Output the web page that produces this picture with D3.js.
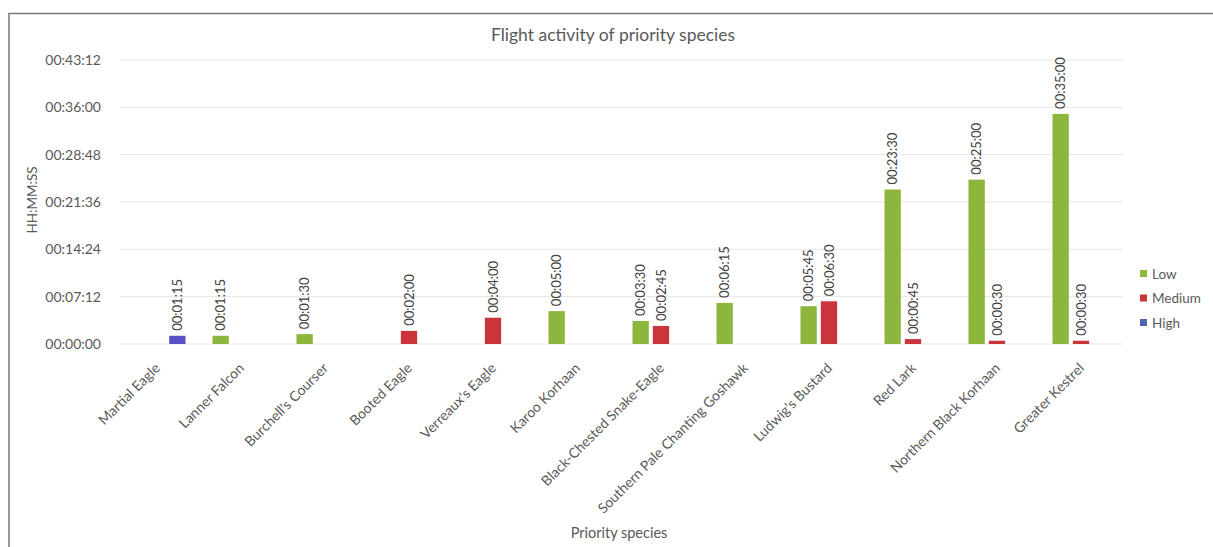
<!DOCTYPE html>
<html>
<head>
<meta charset="utf-8">
<script src="https://cdn.jsdelivr.net/npm/d3@7"></script>
<style>
  html, body { margin: 0; padding: 0; background: #fff; }
  svg { display: block; font-family: Lato, "Open Sans", sans-serif; }
</style>
</head>
<body>
<svg id="chart" width="1213" height="547"></svg>
<script>
// Data (values in seconds)
const categories = ["Martial Eagle", "Lanner Falcon", "Burchell's Courser", "Booted Eagle",
  "Verreaux's Eagle", "Karoo Korhaan", "Black-Chested Snake-Eagle",
  "Southern Pale Chanting Goshawk", "Ludwig's Bustard", "Red Lark",
  "Northern Black Korhaan", "Greater Kestrel"];
const seriesNames = ["Low", "Medium", "High"];
const lowValues    = [null, 75, 90, null, null, 300, 210, 375, 345, 1410, 1500, 2100];
const mediumValues = [null, null, null, 120, 240, null, 165, null, 390, 45, 30, 30];
const highValues   = [75, null, null, null, null, null, null, null, null, null, null, null];
const yTickValues  = [0, 432, 864, 1296, 1728, 2160, 2592]; // seconds
const seriesColors = ["#8db63c", "#c9353a", "#5a50c2"];
const legendColors = ["#8db63c", "#c9353a", "#4f66b0"];

const fmt = s => {
  const h = Math.floor(s / 3600), m = Math.floor((s % 3600) / 60), sec = Math.round(s % 60);
  return [h, m, sec].map(v => String(v).padStart(2, "0")).join(":");
};

const svg = d3.select("#chart");
const W = 1213, H = 547;
const plot = { left: 115, right: 1123, top: 60, bottom: 344 };

// Border
svg.append("path")
  .attr("d", `M9,${H + 2} L9,13.5 L${W + 2},13.5`)
  .attr("fill", "none").attr("stroke", "#7a7a7a").attr("stroke-width", 1.5);

const x = d3.scaleBand().domain(categories).range([plot.left, plot.right]).padding(0);
const inner = d3.scaleBand().domain(seriesNames).range([-28.5, 28.5]).paddingInner(0.2);
const y = d3.scaleLinear().domain([0, 2592]).range([plot.bottom, plot.top]);

// Gridlines
svg.append("g").selectAll("line").data(yTickValues).join("line")
  .attr("x1", plot.left + 5).attr("x2", plot.right)
  .attr("y1", d => y(d)).attr("y2", d => y(d))
  .attr("stroke", "#e6e6e6").attr("stroke-width", 1);

// Y axis labels
const yAxis = d3.axisLeft(y).tickValues(yTickValues).tickFormat(fmt).tickSize(0).tickPadding(12);
const gy = svg.append("g").attr("transform", `translate(${plot.left - 2},0)`).call(yAxis);
gy.select(".domain").remove();
gy.selectAll("text").attr("fill", "#595959").style("font-size", "14px")
  .style("font-family", "Lato, sans-serif");

// Bars
const allSeries = [lowValues, mediumValues, highValues];
const barData = [];
categories.forEach((c, i) => {
  allSeries.forEach((vals, si) => {
    if (vals[i] != null) barData.push({ cat: c, series: seriesNames[si], si, v: vals[i] });
  });
});

svg.append("g").selectAll("rect").data(barData).join("rect")
  .attr("x", d => x(d.cat) + x.bandwidth() / 2 + inner(d.series))
  .attr("width", inner.bandwidth())
  .attr("y", d => y(d.v))
  .attr("height", d => y(0) - y(d.v))
  .attr("fill", d => seriesColors[d.si]);

// Data labels
svg.append("g").selectAll("text").data(barData).join("text")
  .attr("transform", d => {
    const cx = x(d.cat) + x.bandwidth() / 2 + inner(d.series) + inner.bandwidth() / 2;
    return `translate(${cx + 4.5},${y(d.v) - 5}) rotate(-90)`;
  })
  .attr("text-anchor", "start")
  .attr("fill", "#404040").style("font-size", "13px")
  .text(d => fmt(d.v));

// X axis category labels
svg.append("g").selectAll("text").data(categories).join("text")
  .attr("transform", d => `translate(${x(d) + x.bandwidth() / 2 + 4},${plot.bottom + 25}) rotate(-45)`)
  .attr("text-anchor", "end")
  .attr("fill", "#595959").style("font-size", "14px")
  .text(d => d);

// Title
svg.append("text").attr("x", 613).attr("y", 41).attr("text-anchor", "middle")
  .attr("fill", "#595959").style("font-size", "17.5px")
  .text("Flight activity of priority species");

// Axis titles
svg.append("text").attr("x", 619).attr("y", 538).attr("text-anchor", "middle")
  .attr("fill", "#595959").style("font-size", "14.5px").text("Priority species");
svg.append("text").attr("transform", "translate(37,200) rotate(-90)").attr("text-anchor", "middle")
  .attr("fill", "#595959").style("font-size", "13.5px").text("HH:MM:SS");

// Legend
const lg = svg.append("g").selectAll("g").data(seriesNames).join("g")
  .attr("transform", (d, i) => `translate(1140,${274 + i * 24.5})`);
lg.append("rect").attr("x", 0).attr("y", -4).attr("width", 7).attr("height", 7)
  .attr("fill", (d, i) => legendColors[i]);
lg.append("text").attr("x", 12).attr("y", 4.5).attr("fill", "#595959")
  .style("font-size", "13.5px").text(d => d);
</script>
</body>
</html>
